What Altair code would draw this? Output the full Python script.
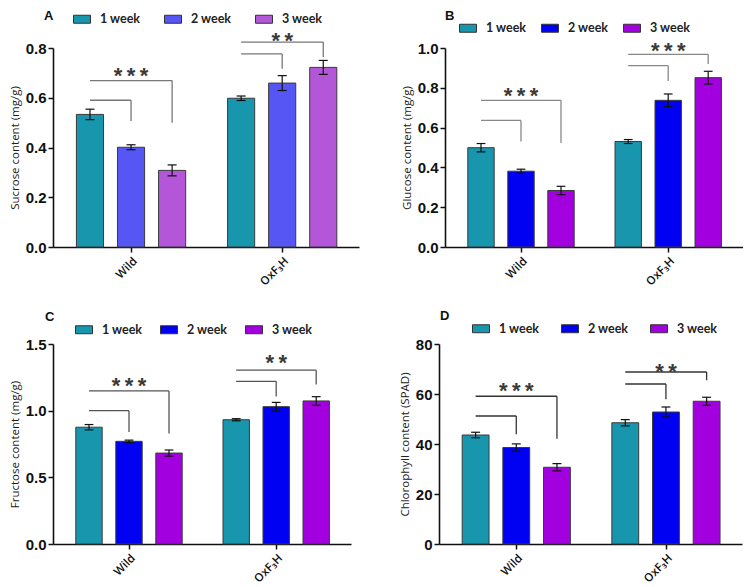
import altair as alt
import pandas as pd

# ---------------- data ----------------
groups = ["Wild", "OxF\u2083H"]
weeks = ["1 week", "2 week", "3 week"]

# order: Wild 1w, 2w, 3w, OxF3H 1w, 2w, 3w
sucrose_mean = [0.533, 0.401, 0.308, 0.598, 0.659, 0.722]
sucrose_err = [0.021, 0.010, 0.022, 0.009, 0.030, 0.028]
glucose_mean = [0.499, 0.381, 0.284, 0.530, 0.737, 0.851]
glucose_err = [0.021, 0.010, 0.021, 0.010, 0.032, 0.032]
fructose_mean = [0.876, 0.770, 0.682, 0.932, 1.030, 1.073]
fructose_err = [0.020, 0.009, 0.023, 0.008, 0.032, 0.032]
chloro_mean = [43.6, 38.6, 30.7, 48.5, 52.8, 57.1]
chloro_err = [1.1, 1.45, 1.45, 1.25, 2.0, 1.6]

# significance brackets: from 1 week to the target week, per group
br_group = [0, 0, 1, 1]
br_to_week = [1, 2, 1, 2]
sucrose_br_top = [0.590, 0.669, 0.776, 0.824]
sucrose_br_bottom = [0.507, 0.500, 0.717, 0.764]
glucose_br_top = [0.636, 0.737, 0.911, 0.968]
glucose_br_bottom = [0.530, 0.523, 0.834, 0.920]
fructose_br_top = [1.000, 1.148, 1.220, 1.304]
fructose_br_bottom = [0.840, 0.828, 1.106, 1.197]
chloro_br_top = [51.2, 59.1, 64.0, 68.8]
chloro_br_bottom = [43.9, 42.1, 57.9, 65.5]

star_group = [0, 1]
sucrose_star_y = [0.712, 0.853]
sucrose_stars = ["***", "**"]
glucose_star_y = [0.790, 1.013]
glucose_stars = ["***", "***"]
fructose_star_y = [1.230, 1.400]
fructose_stars = ["***", "**"]
chloro_star_y = [63.5, 71.1]
chloro_stars = ["***", "**"]

colors_a = ["#1796AE", "#5656F5", "#B357D8"]
colors_bcd = ["#1796AE", "#0000F2", "#A300E0"]

# ---------------- layout constants ----------------
G = 3.68          # distance between group centres, in bar steps
BAR_HALF = 0.33
CAP_HALF = 0.11
XDOM = [-0.9, 6.55]
RECT = "M-1,-0.47L1,-0.47L1,0.47L-1,0.47Z"


def bar_table(means, errs):
    rows = []
    for gi, g in enumerate(groups):
        for wi, w in enumerate(weeks):
            k = gi * len(weeks) + wi
            rows.append(dict(group=g, gi=gi, week=w, wi=wi, mean=means[k], err=errs[k]))
    return pd.DataFrame(rows)


def panel(letter, ytitle, means, errs, colors, ydom, yvals, yfmt,
          br_top, br_bottom, star_y, stars, width, height,
          lx, ly, tmode, tpad, cpad, brcolor):
    df = bar_table(means, errs)
    br = pd.DataFrame(dict(gi=br_group, to=br_to_week, top=br_top, bottom=br_bottom))
    st = pd.DataFrame(dict(gi=star_group, y=star_y, sig=["\u2009".join(s) for s in stars]))

    xs = alt.Scale(domain=XDOM, nice=False, zero=False)
    ys = alt.Scale(domain=ydom, nice=False, zero=True)
    label_expr = " : ".join(
        [f"datum.value < {gi * G + 1 + G / 2} ? '{g}'" for gi, g in enumerate(groups[:-1])]
        + [f"'{groups[-1]}'"])
    xaxis = alt.Axis(values=[gi * G + 1 for gi in range(len(groups))], labelExpr=label_expr,
                     title=None, labelAngle=315, labelFont="Open Sans", labelFontSize=11.5,
                     labelFontWeight=600, labelColor="#111", labelPadding=3, tickSize=5,
                     grid=False)
    yaxis = alt.Axis(values=yvals, format=yfmt, title=ytitle, grid=False,
                     labelFont="Liberation Sans", labelFontSize=15, labelFontWeight="bold",
                     labelColor="#111", labelPadding=2, tickSize=5,
                     titleFont="Open Sans", titleFontSize=11.5, titleFontWeight="normal",
                     titleColor="#1a1a1a", titlePadding=5)
    X = lambda f: alt.X(f, scale=xs, axis=xaxis)
    Y = lambda f: alt.Y(f, scale=ys, axis=yaxis)

    leg_kw = dict(orient="none", legendX=lx, legendY=ly, direction="horizontal",
                  labelFont="Lato", labelFontSize=12.5, labelFontWeight="bold",
                  labelColor="#222", labelOffset=9,
                  symbolType=RECT, symbolSize=289, symbolStrokeColor="#333",
                  symbolStrokeWidth=1, symbolOpacity=1, columnPadding=cpad)
    if tmode == "title":
        leg = alt.Legend(title=None, **leg_kw)
    else:
        leg = alt.Legend(title=letter, titleOrient="left", titleAnchor="start",
                         titleBaseline=tmode, titleFont="Liberation Sans", titleFontSize=13,
                         titleFontWeight="bold", titleColor="#111", titlePadding=tpad,
                         **leg_kw)

    base = (alt.Chart(df)
            .transform_calculate(pos=f"datum.gi * {G} + datum.wi")
            .transform_calculate(x0=f"datum.pos - {BAR_HALF}", x1=f"datum.pos + {BAR_HALF}",
                                 c0=f"datum.pos - {CAP_HALF}", c1=f"datum.pos + {CAP_HALF}",
                                 lo="datum.mean - datum.err", hi="datum.mean + datum.err"))

    bars = base.mark_rect(stroke="#3a3a3a", strokeWidth=1).encode(
        x=X("x0:Q"), x2="x1:Q", y=Y("mean:Q"), y2=alt.datum(0),
        color=alt.Color("week:N", scale=alt.Scale(domain=weeks, range=colors), legend=leg))
    whisk = base.mark_rule(color="#111", strokeWidth=1.2).encode(
        x=X("pos:Q"), y=Y("lo:Q"), y2="hi:Q")
    cap_hi = base.mark_rule(color="#111", strokeWidth=1.2).encode(
        x=X("c0:Q"), x2="c1:Q", y=Y("hi:Q"))
    cap_lo = base.mark_rule(color="#111", strokeWidth=1.2).encode(
        x=X("c0:Q"), x2="c1:Q", y=Y("lo:Q"))

    bbase = (alt.Chart(br)
             .transform_calculate(xa=f"datum.gi * {G}", xb=f"datum.gi * {G} + datum.to"))
    br_h = bbase.mark_rule(color=brcolor, strokeWidth=1.3).encode(
        x=X("xa:Q"), x2="xb:Q", y=Y("top:Q"))
    br_v = bbase.mark_rule(color=brcolor, strokeWidth=1.3).encode(
        x=X("xb:Q"), y=Y("top:Q"), y2="bottom:Q")

    stars_txt = (alt.Chart(st)
                 .transform_calculate(xs=f"datum.gi * {G} + 1")
                 .mark_text(font="Liberation Sans", fontSize=22, fontWeight="bold",
                            color="#3a3a3a", baseline="alphabetic", dy=13)
                 .encode(x=X("xs:Q"), y=Y("y:Q"), text="sig:N"))

    props = dict(width=width, height=height)
    if tmode == "title":
        props["title"] = alt.TitleParams(text=letter, anchor="start", frame="group",
                                         font="Liberation Sans", fontSize=13,
                                         fontWeight="bold", color="#111", offset=0, dy=4)
    return alt.layer(bars, whisk, cap_hi, cap_lo, br_h, br_v, stars_txt).properties(**props)


A = panel("A", "Sucrose content (mg/g)", sucrose_mean, sucrose_err, colors_a,
          [0, 0.8], [0, 0.2, 0.4, 0.6, 0.8], ".1f",
          sucrose_br_top, sucrose_br_bottom, sucrose_star_y, sucrose_stars,
          306, 199, -9, -38, "top", 19, 21, "#777")
B = panel("B", "Glucose content (mg/g)", glucose_mean, glucose_err, colors_bcd,
          [0, 1.0], [0, 0.2, 0.4, 0.6, 0.8, 1.0], ".1f",
          glucose_br_top, glucose_br_bottom, glucose_star_y, glucose_stars,
          298, 199, 14, -29, "title", 8, 12, "#888")
C = panel("C", "Fructose content (mg/g)", fructose_mean, fructose_err, colors_bcd,
          [0, 1.5], [0, 0.5, 1.0, 1.5], ".1f",
          fructose_br_top, fructose_br_bottom, fructose_star_y, fructose_stars,
          298, 200, -8, -23.5, "alphabetic", 20, 15, "#555")
D = panel("D", "Chlorophyll content (SPAD)", chloro_mean, chloro_err, colors_bcd,
          [0, 80], [0, 20, 40, 60, 80], "d",
          chloro_br_top, chloro_br_bottom, chloro_star_y, chloro_stars,
          303, 200, 1, -24.5, "alphabetic", 22, 19, "#333")

row1 = (alt.hconcat(A, B, spacing=42)
        .resolve_scale(color="independent").resolve_legend(color="independent"))
row2 = (alt.hconcat(C, D, spacing=48)
        .resolve_scale(color="independent").resolve_legend(color="independent"))

chart = (alt.vconcat(row1, row2, spacing=31)
         .resolve_scale(color="independent").resolve_legend(color="independent")
         .properties(padding={"left": 1, "top": 2, "right": 0, "bottom": 0})
         .configure_view(stroke=None)
         .configure_axis(domainColor="#111", domainWidth=1.6, tickColor="#111",
                         tickWidth=1.5, grid=False))

chart.save("out.html", embed_options={"renderer": "svg", "actions": False})
